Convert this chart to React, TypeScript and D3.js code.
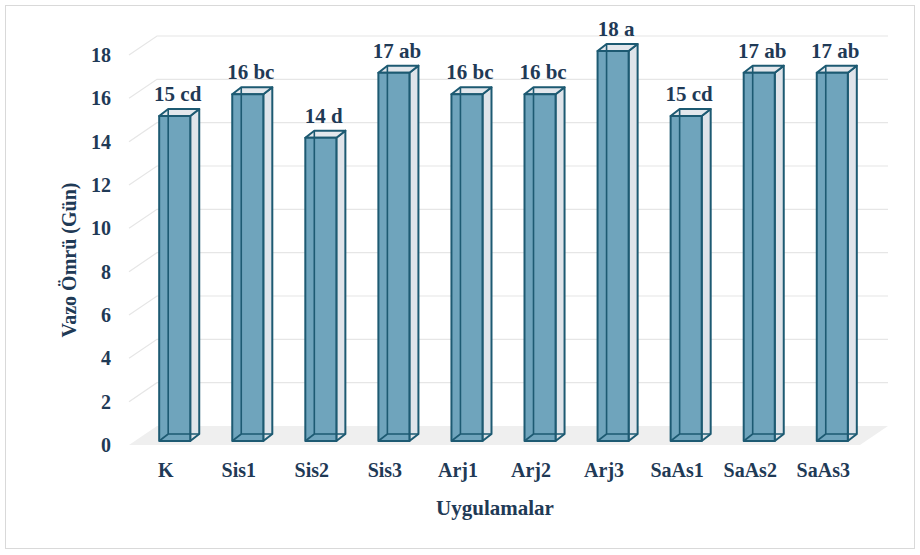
import React, { useEffect, useRef } from "react";
import * as d3 from "d3";

const categories = ["K", "Sis1", "Sis2", "Sis3", "Arj1", "Arj2", "Arj3", "SaAs1", "SaAs2", "SaAs3"];
const values = [15, 16, 14, 17, 16, 16, 18, 15, 17, 17];
const letters = ["cd", "bc", "d", "ab", "bc", "bc", "a", "cd", "ab", "ab"];
const yTicks = [0, 2, 4, 6, 8, 10, 12, 14, 16, 18];

const TEXT = "#1f3a56";
const EDGE = "#1d5a72";
const FONT = "Liberation Serif, Times New Roman, DejaVu Serif, serif";

const App = () => {
  const svgRef = useRef<SVGSVGElement>(null);

  useEffect(() => {
    const width = 920;
    const height = 555;
    const svg = d3.select(svgRef.current).attr("width", width).attr("height", height);
    svg.selectAll("*").remove();

    // front plane of the 3d box
    const left = 129;
    const right = 860;
    const wall = { dx: 28, dy: -19 };
    const barOff = { dx: 9, dy: -4 };
    const depth = { dx: 9, dy: -7 };

    const x = d3.scaleBand().domain(categories).range([left, right]).paddingInner(0.575).paddingOuter(0.29);
    const y = d3.scaleLinear().domain([0, 18]).range([445, 55]);

    svg
      .append("rect")
      .attr("x", 5.5)
      .attr("y", 5.5)
      .attr("width", 909)
      .attr("height", 543)
      .attr("fill", "#fff")
      .attr("stroke", "#d9d9d9");

    // floor
    const y0 = y(0);
    svg
      .append("polygon")
      .attr(
        "points",
        [
          [left, y0],
          [right, y0],
          [right + wall.dx, y0 + wall.dy],
          [left + wall.dx, y0 + wall.dy],
        ].join(" ")
      )
      .attr("fill", "#efefef");

    // grid: left wall diagonal + back wall horizontal
    const grid = svg.append("g").attr("stroke", "#e6e6e6").attr("stroke-width", 1.2).attr("fill", "none");
    yTicks.forEach((t) => {
      if (t === 0) return;
      const yy = y(t);
      grid
        .append("path")
        .attr("d", `M${left},${yy}L${left + wall.dx},${yy + wall.dy}L${right + wall.dx},${yy + wall.dy}`);
    });

    // y tick labels
    svg
      .append("g")
      .selectAll("text")
      .data(yTicks)
      .join("text")
      .attr("x", 111)
      .attr("y", (d) => y(d) + 7)
      .attr("text-anchor", "end")
      .style("font-family", FONT)
      .attr("font-weight", "bold")
      .attr("font-size", 20)
      .attr("fill", TEXT)
      .text((d) => d);

    // bars
    const bw = x.bandwidth();
    const bars = svg.append("g");
    categories.forEach((c, i) => {
      const v = values[i];
      const x0 = (x(c) as number) + barOff.dx;
      const x1 = x0 + bw;
      const yb = y(0) + barOff.dy;
      const yt = y(v) + barOff.dy;
      const g = bars.append("g").attr("stroke", EDGE).attr("stroke-width", 2).attr("stroke-linejoin", "round");

      // side face
      g.append("polygon")
        .attr("points", [[x1, yt], [x1 + depth.dx, yt + depth.dy], [x1 + depth.dx, yb + depth.dy], [x1, yb]].join(" "))
        .attr("fill", "#dfe4ea");
      // top face
      g.append("polygon")
        .attr("points", [[x0, yt], [x0 + depth.dx, yt + depth.dy], [x1 + depth.dx, yt + depth.dy], [x1, yt]].join(" "))
        .attr("fill", "#e3e7ec");
      // front face
      g.append("rect")
        .attr("x", x0)
        .attr("y", yt)
        .attr("width", bw)
        .attr("height", yb - yt)
        .attr("fill", "#6fa4bc");
      // hidden back edges seen through
      g.append("path")
        .attr("fill", "none")
        .attr("stroke-width", 1.6)
        .attr(
          "d",
          `M${x0 + depth.dx},${yt + depth.dy}L${x0 + depth.dx},${yb + depth.dy}L${x1 + depth.dx},${yb + depth.dy}` +
            `M${x0},${yb}L${x0 + depth.dx},${yb + depth.dy}`
        );

      svg
        .append("text")
        .attr("x", x0 + bw / 2 + 3)
        .attr("y", yt - 15)
        .attr("text-anchor", "middle")
        .style("font-family", FONT)
        .attr("font-weight", "bold")
        .attr("font-size", 21)
        .attr("fill", TEXT)
        .text(`${v} ${letters[i]}`);
    });

    // category labels
    svg
      .append("g")
      .selectAll("text")
      .data(categories)
      .join("text")
      .attr("x", (d) => (x(d) as number) + bw / 2)
      .attr("y", 477)
      .attr("text-anchor", "middle")
      .style("font-family", FONT)
      .attr("font-weight", "bold")
      .attr("font-size", 20)
      .attr("fill", TEXT)
      .text((d) => d);

    svg
      .append("text")
      .attr("x", 495)
      .attr("y", 515)
      .attr("text-anchor", "middle")
      .style("font-family", FONT)
      .attr("font-weight", "bold")
      .attr("font-size", 21)
      .attr("fill", TEXT)
      .text("Uygulamalar");

    svg
      .append("text")
      .attr("transform", "translate(76,260) rotate(-90)")
      .attr("text-anchor", "middle")
      .style("font-family", FONT)
      .attr("font-weight", "bold")
      .attr("font-size", 20)
      .attr("fill", TEXT)
      .text("Vazo Ömrü (Gün)");
  }, []);

  return <svg ref={svgRef} style={{ position: "absolute", left: 0, top: 0 }}></svg>;
};

export default App;
